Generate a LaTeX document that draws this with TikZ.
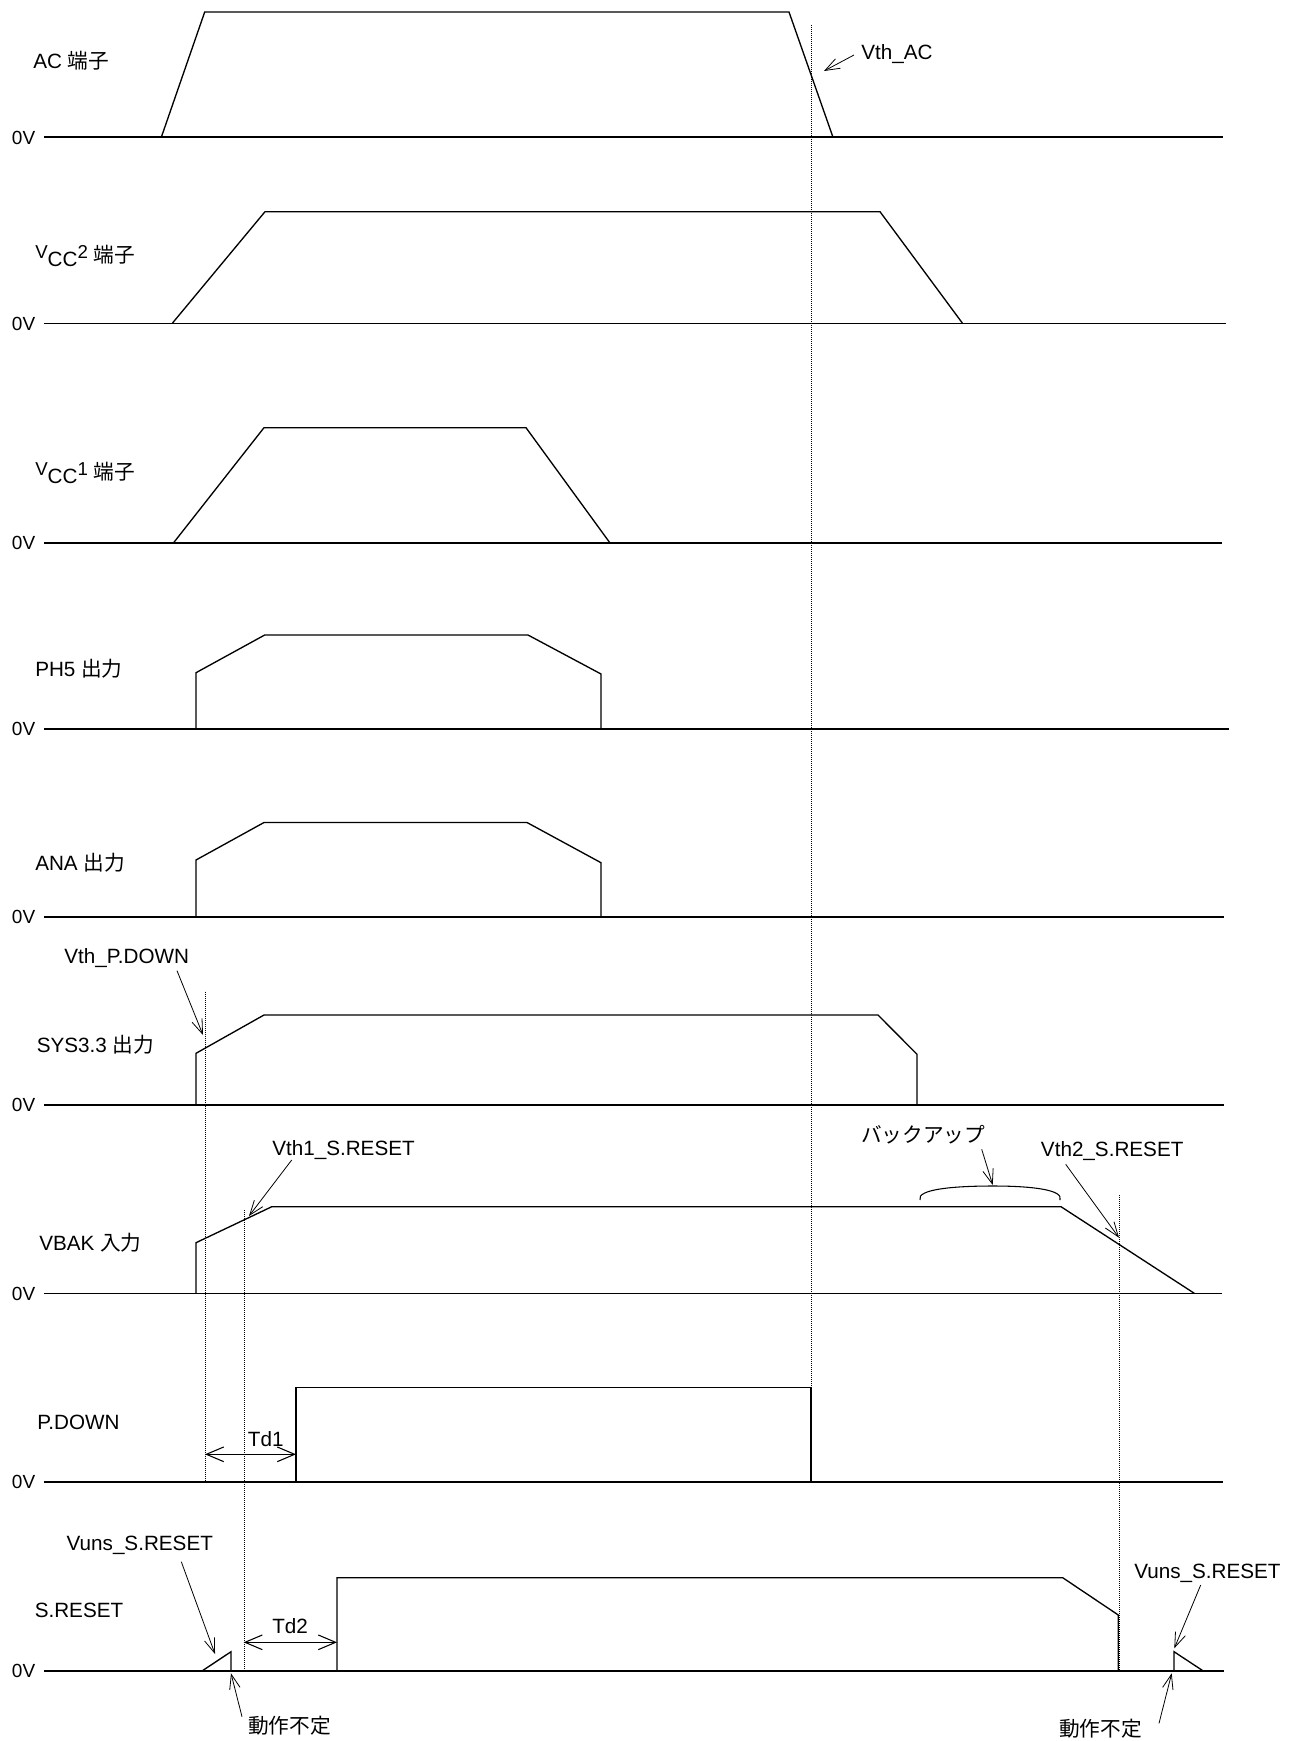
\documentclass[tikz,border=0pt]{standalone}
\usepackage{fontspec}
\setmainfont{Liberation Sans}
\newfontfamily\cjk{Noto Sans CJK JP}
\usetikzlibrary{arrows.meta}
\newcommand\tfnt{\fontsize{15.5}{18}\selectfont}
\newcommand\smallfnt{\fontsize{14}{16}\selectfont}
\newcommand\zfnt{\fontsize{14.25}{16}\selectfont}
\begin{document}
\begin{tikzpicture}[x=0.75pt,y=-0.75pt,
  wave/.style={line width=1.0pt, line join=miter},
  zero/.style={line width=1.2pt},
  guide/.style={line width=0.5pt, densely dotted},
  lbl/.style={anchor=base west, inner sep=0pt, font=\tfnt},
  zv/.style={anchor=base east, inner sep=0pt, font=\zfnt},
  note/.style={-{Straight Barb[length=11pt,width=8pt]}, line width=0.6pt},
  dim/.style={{Straight Barb[length=13pt,width=11pt]}-{Straight Barb[length=13pt,width=11pt]}, line width=0.8pt},
]
\useasboundingbox (0,0) rectangle (1289,1741);

% ---------- 0V baselines ----------
\foreach \n/\y/\e in {ac/137.3/1223, vtwo/323.3/1226, vone/543/1222, ph/729/1229, ana/917/1224, sys/1105/1224, vbak/1293.3/1222, pd/1481.7/1223, sr/1671/1224}{
  \node[zv] (z\n) at (35.5,\y+6.8) {0V};
  \draw[zero] (44,\y) -- (\e,\y);
}

% ---------- signal labels ----------
\node[lbl] (lac) at (33,68.5) {AC {\cjk 端子}};
\node[lbl] (lvtwo) at (35,262.5) {\raisebox{3pt}{\smallfnt V}\raisebox{-3pt}{CC}\raisebox{3pt}{\smallfnt 2} {\cjk 端子}};
\node[lbl] (lvone) at (35,479.5) {\raisebox{3pt}{\smallfnt V}\raisebox{-3pt}{CC}\raisebox{3pt}{\smallfnt 1} {\cjk 端子}};
\node[lbl] (lph) at (35,676.5) {PH5 {\cjk 出力}};
\node[lbl] (lana) at (35,870.5) {ANA {\cjk 出力}};
\node[lbl] (lsys) at (36.5,1052.5) {SYS3.3 {\cjk 出力}};
\node[lbl] (lvbak) at (39,1250) {VBAK {\cjk 入力}};
\node[lbl] (lpd) at (37,1429.5) {P.DOWN};
\node[lbl] (lsr) at (34.5,1617.5) {S.RESET};

% ---------- waveforms ----------
\draw[wave] (161.3,137.3) -- (204.7,12) -- (789,12) -- (833,137.3);
\draw[wave] (172.3,323.3) -- (265,211.7) -- (880,211.7) -- (962.5,323.3);
\draw[wave] (173.4,543) -- (264,427.7) -- (526,427.7) -- (610,543);
\draw[wave] (196,729) -- (196,672.7) -- (264.7,635) -- (528,635) -- (601,674) -- (601,729);
\draw[wave] (196,917) -- (196,860) -- (264,822.5) -- (527,822.5) -- (601,862.7) -- (601,917);
\draw[wave] (196,1105) -- (196,1053.3) -- (264,1015) -- (878,1015) -- (917,1054.3) -- (917,1105);
\draw[wave] (196,1293.3) -- (196,1242.7) -- (271.8,1206.7) -- (1061,1206.7) -- (1194.3,1293.3);
\draw[wave] (296,1481.7) -- (296,1387.3) -- (811,1387.3) -- (811,1481.7);
\draw[wave] (202,1671) -- (231,1651.7) -- (231,1671);
\draw[wave] (337,1671) -- (337,1577.7) -- (1062.7,1577.7) -- (1118.3,1615) -- (1118.3,1671);
\draw[wave] (1174,1671) -- (1174,1651.7) -- (1203.3,1671);

% ---------- dotted guides ----------
\draw[guide] (811,25) -- (811,1481.7);
\draw[guide] (205,991.7) -- (205,1481.7);
\draw[guide] (244,1210) -- (244,1671);
\draw[guide] (1119.3,1195) -- (1119.3,1671);

% ---------- annotations ----------
\node[lbl] (tvac) at (861,59.5) {Vth\_AC};
\coordinate (avac0) at (854,55);   \coordinate (avac1) at (824,71);
\draw[note] (avac0) -- (avac1);

\node[lbl] (tvpd) at (64,963.3) {Vth\_P.DOWN};
\coordinate (avpd0) at (177,970.7); \coordinate (avpd1) at (203,1035);
\draw[note] (avpd0) -- (avpd1);

\node[lbl] (tv1) at (272,1155) {Vth1\_S.RESET};
\coordinate (av10) at (291.7,1160); \coordinate (av11) at (249,1216);
\draw[note] (av10) -- (av11);

\node[lbl] (tbk) at (861,1142) {\cjk バックアップ};
\draw[line width=0.8pt] (920,1200) .. controls (916,1189) and (955,1186) .. (993,1186) .. controls (1033,1186) and (1064,1190) .. (1060,1200);
\coordinate (abk0) at (981.7,1149.3); \coordinate (abk1) at (992.7,1185);
\draw[note] (abk0) -- (abk1);

\node[lbl] (tv2) at (1040.7,1156) {Vth2\_S.RESET};
\coordinate (av20) at (1065.7,1164.3); \coordinate (av21) at (1119,1237.7);
\draw[note] (av20) -- (av21);

\node[lbl] (ttd1) at (247.7,1446.7) {Td1};
\coordinate (td1a) at (205,1454.3); \coordinate (td1b) at (296,1454.3);
\draw[dim] (td1a) -- (td1b);

\node[lbl] (ttd2) at (272,1633.3) {Td2};
\coordinate (td2a) at (243.6,1642.3); \coordinate (td2b) at (337,1642.3);
\draw[dim] (td2a) -- (td2b);

\node[lbl] (tvul) at (66.4,1550.7) {Vuns\_S.RESET};
\coordinate (avul0) at (181.3,1561.7); \coordinate (avul1) at (215,1654);
\draw[note] (avul0) -- (avul1);

\node[lbl] (tdfl) at (248,1733) {\cjk 動作不定};
\coordinate (adfl0) at (242,1716.7); \coordinate (adfl1) at (231,1673.3);
\draw[note] (adfl0) -- (adfl1);

\node[lbl] (tvur) at (1134,1578.3) {Vuns\_S.RESET};
\coordinate (avur0) at (1200.7,1585); \coordinate (avur1) at (1174.3,1648.3);
\draw[note] (avur0) -- (avur1);

\node[lbl] (tdfr) at (1059,1736) {\cjk 動作不定};
\coordinate (adfr0) at (1159,1723.3); \coordinate (adfr1) at (1171.7,1673.3);
\draw[note] (adfr0) -- (adfr1);
\end{tikzpicture}
\end{document}
